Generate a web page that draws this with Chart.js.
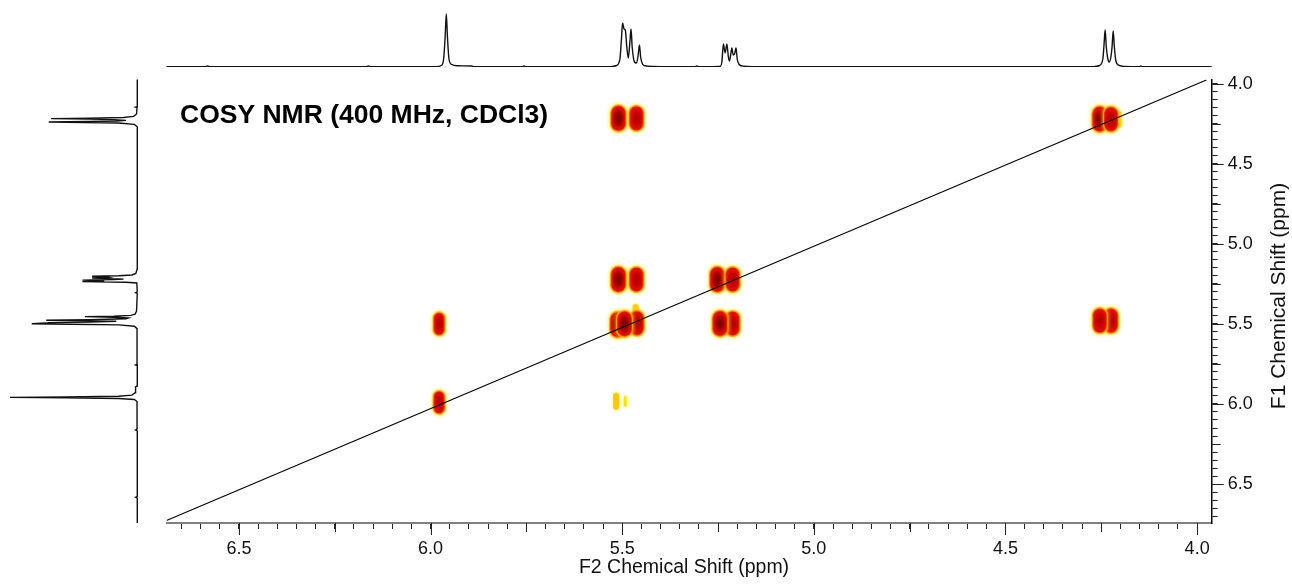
<!DOCTYPE html>
<html>
<head>
<meta charset="utf-8">
<script src="https://cdn.jsdelivr.net/npm/chart.js@4.4.1/dist/chart.umd.min.js"></script>
<style>
  html, body { margin: 0; padding: 0; background: #fff; }
  #wrap { position: relative; width: 1292px; height: 586px; }
  #wrap canvas { position: absolute; left: 0; top: 0; }
</style>
</head>
<body>
<div id="wrap">
  <canvas id="main" width="1292" height="586"></canvas>
  <canvas id="top" width="1292" height="586"></canvas>
  <canvas id="left" width="1292" height="586"></canvas>
</div>
<script>
// 1H trace (ppm / intensity)
var specPpm = [6.75, 6.60, 6.588, 6.582, 6.576, 6.30, 6.168, 6.162, 6.156,
  5.985, 5.972, 5.966, 5.962, 5.959, 5.956, 5.952, 5.945, 5.93, 5.893, 5.888,
  5.76, 5.756, 5.752,
  5.53, 5.515, 5.506, 5.502, 5.499, 5.495, 5.492, 5.488, 5.484, 5.480, 5.477, 5.474,
  5.468, 5.463, 5.459, 5.455, 5.452, 5.447, 5.44, 5.42,
  5.31, 5.305, 5.30,
  5.245, 5.240, 5.236, 5.2315, 5.227, 5.223, 5.2205, 5.217, 5.214, 5.2105, 5.207,
  5.203, 5.200, 5.195, 5.185, 5.16,
  4.27, 4.255, 4.246, 4.243, 4.240, 4.237, 4.2335, 4.2295, 4.225, 4.222, 4.219,
  4.216, 4.212, 4.205, 4.19, 4.15, 4.147, 4.144, 3.955];
var specInt = [0.3, 0.3, 0.3, 1.0, 0.3, 0.3, 0.3, 1.0, 0.3,
  0.4, 1.5, 8, 30, 53, 30, 8, 2.5, 1.2, 1.0, 0.4,
  0.3, 1.0, 0.3,
  0.4, 1.5, 8, 28, 44, 38, 37, 20, 9, 25, 38, 20,
  5, 4, 10, 22, 10, 3, 1.2, 0.6,
  0.3, 1.0, 0.3,
  0.5, 5, 23, 14, 23, 10, 6, 12, 19, 12, 13,
  19, 8, 2.5, 0.9, 0.4,
  0.3, 1.5, 8, 22, 37, 20, 9, 5, 10, 20, 36,
  20, 6, 1.8, 0.6, 0.4, 1.0, 0.3, 0.3];

// cross peaks: F2 shift, F1 shift, strength (weak ones first so they sit underneath)
var peakF2 = [4.205, 5.465, 5.516, 5.492,
  5.510, 5.463, 4.254, 4.225,
  5.510, 5.463, 5.252, 5.212,
  5.978, 5.462, 5.512, 5.494, 5.212, 5.245, 4.225, 4.254,
  5.978];
var peakF1 = [4.222, 5.430, 5.983, 5.983,
  4.217, 4.217, 4.222, 4.222,
  5.223, 5.223, 5.223, 5.223,
  5.500, 5.495, 5.505, 5.500, 5.498, 5.498, 5.480, 5.480,
  5.990];
var peakAmp = [1, 1, 1, 0.7,
  3, 2.5, 3, 2.5,
  3, 2.5, 3, 2.5,
  2, 2.5, 3, 3, 2.5, 3, 2.5, 2.5,
  2];

// diagonal
var diagF2 = [6.689, 3.976];
var diagF1 = [6.728, 3.978];

var f2Range = [3.962, 6.689];
var f1Range = [3.974, 6.743];
var tickLabels = ['4.0', '4.5', '5.0', '5.5', '6.0', '6.5'];

var FONT = "'Liberation Sans', Arial, sans-serif";

function isStep(v, step) {
  var q = v / step;
  return Math.abs(q - Math.round(q)) < 1e-6;
}
function labelFor(v) {
  var i = tickLabels.indexOf((Math.round(v * 10) / 10).toFixed(1));
  return (isStep(v, 0.5) && i >= 0) ? tickLabels[i] : '';
}
function keepMinor(scale) {
  scale.ticks = scale.ticks.filter(function (t) {
    return isStep(t.value, 0.05) && t.value >= scale.min && t.value <= scale.max;
  });
}
function tickLen(v) {
  if (isStep(v, 0.5)) return 12;
  if (isStep(v, 0.25)) return 9;
  return 6;
}

function rr(g, x, y, w, h, r, color) {
  r = Math.min(r, w / 2, h / 2);
  g.fillStyle = color;
  g.beginPath();
  g.moveTo(x + r, y);
  g.arcTo(x + w, y, x + w, y + h, r);
  g.arcTo(x + w, y + h, x, y + h, r);
  g.arcTo(x, y + h, x, y, r);
  g.arcTo(x, y, x + w, y, r);
  g.closePath();
  g.fill();
}

var blobCache = {};
function blob(amp) {
  if (blobCache[amp]) return blobCache[amp];
  var w, h, core = null;
  if (amp >= 3) { w = 19; h = 30; core = 'rgba(120,0,0,'; }
  else if (amp >= 2.5) { w = 18; h = 29; core = 'rgba(180,0,0,'; }
  else if (amp >= 2) { w = 15; h = 27; core = 'rgba(185,0,0,'; }
  else if (amp >= 1) { w = 8; h = 19; }
  else { w = 5; h = 13; }
  var m = 5;
  var c = document.createElement('canvas');
  c.width = w + 2 * m; c.height = h + 2 * m;
  var g = c.getContext('2d');
  if (amp >= 2) {
    g.shadowColor = 'rgba(238,240,0,0.95)';
    g.shadowBlur = 4;
    rr(g, m + 1, m + 1, w - 2, h - 2, w * 0.45, '#ffb400');
    g.shadowColor = 'rgba(255,110,0,0.9)';
    g.shadowBlur = 2.5;
    rr(g, m + 2.3, m + 2.6, w - 4.6, h - 5.2, w * 0.4, '#e00c00');
    g.shadowBlur = 0;
    var cx = m + w / 2, cy = m + h / 2;
    g.save();
    g.translate(cx, cy);
    g.scale(1, h / w);
    var grad = g.createRadialGradient(0, 0, 0, 0, 0, w * 0.34);
    grad.addColorStop(0, core + '1)');
    grad.addColorStop(0.55, core + '0.65)');
    grad.addColorStop(1, core + '0)');
    g.fillStyle = grad;
    g.beginPath(); g.arc(0, 0, w * 0.34, 0, Math.PI * 2); g.fill();
    g.restore();
  } else {
    g.shadowColor = 'rgba(235,240,0,0.9)';
    g.shadowBlur = 3;
    rr(g, m + 1, m + 1, w - 2, h - 2, w * 0.5, amp >= 1 ? '#ffc800' : '#ffe400');
  }
  blobCache[amp] = c;
  return c;
}

// longer marks at 0.25 / 0.5
var tickMarks = {
  id: 'tickMarks',
  afterDraw: function (chart) {
    var ctx = chart.ctx, xs = chart.scales.x, ys = chart.scales.y;
    ctx.save();
    ctx.lineWidth = 1;
    ctx.strokeStyle = '#222';
    xs.ticks.forEach(function (t) {
      var len = tickLen(t.value);
      if (len <= 6) return;
      var px = Math.round(xs.getPixelForValue(t.value)) + 0.5;
      ctx.beginPath(); ctx.moveTo(px, xs.top); ctx.lineTo(px, xs.top + len); ctx.stroke();
    });
    ys.ticks.forEach(function (t) {
      var len = tickLen(t.value);
      if (len <= 6) return;
      var py = Math.round(ys.getPixelForValue(t.value)) + 0.5;
      ctx.beginPath(); ctx.moveTo(ys.left, py); ctx.lineTo(ys.left + len, py); ctx.stroke();
    });
    ctx.restore();
  }
};

var labels = {
  id: 'labels',
  afterDraw: function (chart) {
    var ctx = chart.ctx;
    ctx.save();
    ctx.fillStyle = '#000';
    ctx.font = 'bold 26.5px ' + FONT;
    ctx.textAlign = 'left';
    ctx.textBaseline = 'alphabetic';
    ctx.fillText('COSY NMR (400 MHz, CDCl3)', 180, 123);

    ctx.font = '19.5px ' + FONT;
    ctx.fillStyle = '#111';
    ctx.textAlign = 'center';
    ctx.fillText('F2 Chemical Shift (ppm)', 684, 573);

    ctx.font = '21px ' + FONT;
    ctx.translate(1279, 296);
    ctx.rotate(-Math.PI / 2);
    ctx.textBaseline = 'middle';
    ctx.fillText('F1 Chemical Shift (ppm)', 0, 0);
    ctx.restore();
  }
};

Chart.defaults.font.family = FONT;

new Chart(document.getElementById('main').getContext('2d'), {
  type: 'scatter',
  data: {
    datasets: [
      {
        label: 'diagonal',
        data: diagF2.map(function (x, i) { return { x: x, y: diagF1[i] }; }),
        showLine: true,
        borderColor: '#000',
        borderWidth: 1.1,
        pointRadius: 0,
        order: 0
      },
      {
        label: 'cross peaks',
        data: peakF2.map(function (x, i) { return { x: x, y: peakF1[i] }; }),
        pointStyle: peakAmp.map(blob),
        pointRadius: 3,
        order: 1
      }
    ]
  },
  options: {
    responsive: false,
    animation: false,
    devicePixelRatio: 1,
    layout: { padding: { left: 166.5, top: 79.4, right: 0, bottom: 0 } },
    plugins: { legend: { display: false }, tooltip: { enabled: false } },
    scales: {
      x: {
        type: 'linear', position: 'bottom', reverse: true,
        min: f2Range[0], max: f2Range[1],
        afterBuildTicks: keepMinor,
        afterFit: function (s) { s.height = 63; },
        border: { display: true, color: '#808080', width: 2 },
        grid: { drawOnChartArea: false, drawTicks: true, tickLength: 6, tickColor: '#222' },
        ticks: {
          stepSize: 0.05, includeBounds: false, autoSkip: false, maxRotation: 0, padding: 9,
          color: '#111', font: { size: 18 }, callback: labelFor
        }
      },
      y: {
        type: 'linear', position: 'right', reverse: true,
        min: f1Range[0], max: f1Range[1],
        afterBuildTicks: keepMinor,
        afterFit: function (s) { s.width = 80.3; },
        border: { display: true, color: '#000', width: 1.5 },
        grid: { drawOnChartArea: false, drawTicks: true, tickLength: 6, tickColor: '#222' },
        ticks: {
          stepSize: 0.05, includeBounds: false, autoSkip: false, padding: 10,
          color: '#111', font: { size: 18 }, callback: labelFor
        }
      }
    }
  },
  plugins: [tickMarks, labels]
});

// projection along the top
new Chart(document.getElementById('top').getContext('2d'), {
  type: 'line',
  data: {
    datasets: [{
      data: specPpm.map(function (p, i) { return { x: p, y: specInt[i] }; }),
      borderColor: '#111',
      borderWidth: 1.4,
      pointRadius: 0,
      cubicInterpolationMode: 'monotone'
    }]
  },
  options: {
    responsive: false,
    animation: false,
    devicePixelRatio: 1,
    layout: { padding: { left: 166.5, right: 80.3, top: 7, bottom: 519 } },
    plugins: { legend: { display: false }, tooltip: { enabled: false } },
    scales: {
      x: { type: 'linear', display: false, reverse: true, min: f2Range[0], max: f2Range[1] },
      y: { type: 'linear', display: false, min: 0, max: 60 }
    }
  }
});

// projection down the left side
new Chart(document.getElementById('left').getContext('2d'), {
  type: 'line',
  data: {
    datasets: [{
      data: specPpm.map(function (p, i) { return { x: specInt[i], y: p }; }),
      borderColor: '#111',
      borderWidth: 1.4,
      pointRadius: 0,
      tension: 0
    }]
  },
  options: {
    indexAxis: 'y',
    responsive: false,
    animation: false,
    devicePixelRatio: 1,
    layout: { padding: { left: 5.2, right: 1154, top: 79.4, bottom: 63 } },
    plugins: { legend: { display: false }, tooltip: { enabled: false } },
    scales: {
      x: { type: 'linear', display: false, reverse: true, min: 0, max: 55 },
      y: { type: 'linear', display: false, reverse: true, min: f1Range[0], max: f1Range[1] }
    }
  }
});
</script>
</body>
</html>
